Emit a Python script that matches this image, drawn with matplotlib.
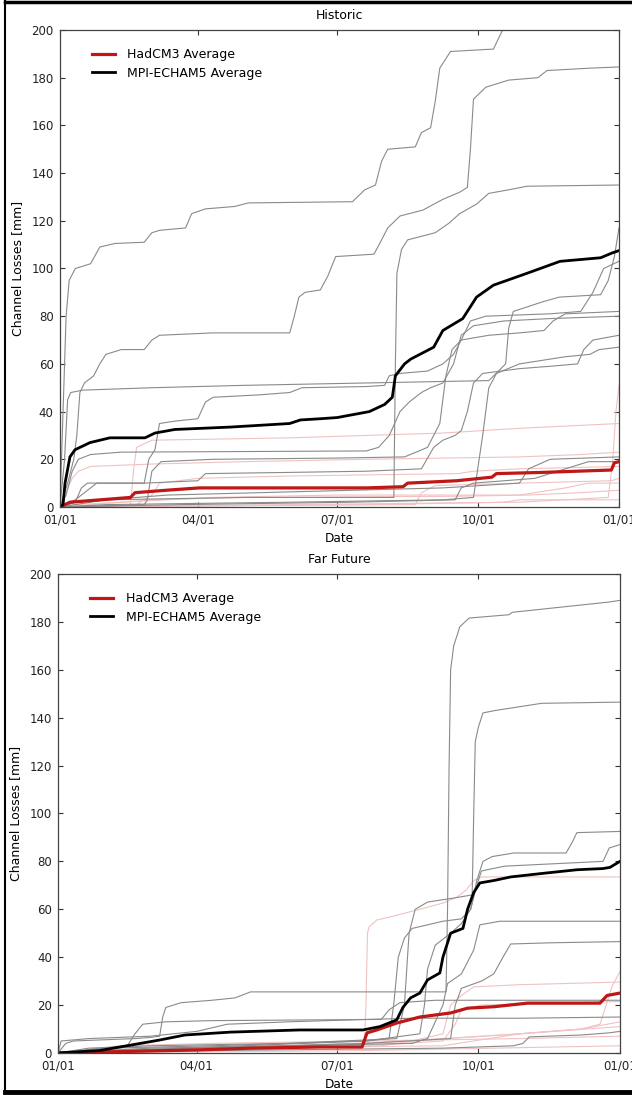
import numpy as np
import matplotlib
matplotlib.use("Agg")
import matplotlib.pyplot as plt
from matplotlib.lines import Line2D

plt.rcParams['font.family'] = ['DejaVu Sans']
plt.rcParams['font.size'] = 8.5
plt.rcParams['xtick.direction'] = 'in'
plt.rcParams['ytick.direction'] = 'in'

#---------------------------------------------------------------------------
# data: (day of year, cumulative channel losses [mm])
date_ticks = [0, 90, 181, 273, 365]
date_labels = ["01/01", "04/01", "07/01", "10/01", "01/01"]
loss_ticks = [0, 20, 40, 60, 80, 100, 120, 140, 160, 180, 200]

# --- Historic ---
hist_mpi = [
    [(0,0),(2,40),(4,80),(6,95),(10,100),(20,102),(26,109),(36,110.5),(55,111),(60,115),(65,116),(82,117),(86,123),(95,125),(114,126),(123,127.5),(191,128),(199,133),(206,135),(210,145),(214,150),(232,151),(236,157),(242,159),(245,170),(248,184),(255,191),(283,192),(289,200),(292,210)],
    [(0,0),(5,10),(9,20),(11,30),(13,48),(16,52),(22,55),(26,60),(30,64),(40,66),(55,66),(60,70),(65,72),(100,73),(150,73),(153,80),(156,88),(160,90),(170,91),(175,97),(180,105),(205,106),(210,112),(214,117),(222,122),(237,124.5),(250,129),(261,132),(266,134),(268,150),(270,171),(278,176),(293,179),(312,180),(318,183),(346,184),(365,184.5)],
    [(0,0),(10,2),(30,3),(120,4),(218,4),(219,60),(220,98),(223,108),(227,112),(245,115),(254,119),(261,123),(272,127),(280,131.5),(293,133),(305,134.5),(365,135)],
    [(0,0),(3,20),(5,45),(7,48),(15,49),(60,50),(120,51),(200,52),(280,53),(291,60),(293,75),(296,82),(315,86),(326,88),(353,89),(358,95),(362,105),(365,117)],
    [(0,0),(10,3),(24,10),(55,10),(58,20),(62,24),(65,35),(75,36),(90,37),(95,44),(100,46),(130,47),(150,48),(158,50),(200,50.5),(212,51),(215,55),(222,56),(240,57),(250,60),(257,64),(262,70),(268,78),(278,80),(320,81),(340,82),(348,90),(355,100),(365,103)],
    [(0,0),(4,5),(8,15),(12,20),(20,22),(40,23),(200,23.5),(208,25),(215,30),(222,40),(228,44),(236,48),(242,50),(250,52),(257,60),(262,72),(270,76),(290,78),(320,79),(365,80)],
    [(0,0),(55,1),(57,3),(60,15),(66,19),(100,20),(180,20.5),(225,21),(240,25),(248,35),(252,55),(256,66),(262,70),(280,72),(300,73),(316,74),(322,78),(330,81),(365,82)],
    [(0,0),(10,2),(14,8),(18,10),(55,10),(90,11),(95,14),(150,14.5),(200,15),(236,16),(244,25),(250,28),(258,30),(262,32),(266,40),(270,52),(276,56),(300,58),(320,59),(338,60),(342,66),(348,70),(365,72)],
    [(0,0),(30,1),(150,2),(250,3),(270,4),(276,30),(280,50),(285,56),(300,60),(330,63),(346,64),(352,66),(365,67)],
    [(0,0),(80,1),(190,2),(258,3),(262,8),(270,10),(310,12),(330,16),(345,19),(365,19)],
    [(0,0),(30,3),(70,5),(130,6),(250,8),(300,10),(306,16),(320,20),(365,21)],
]
hist_had = [
    [(0,0),(46,0.5),(48,15),(50,25),(60,28),(150,29),(250,31),(300,33),(365,35)],
    [(0,0),(3,5),(8,12),(12,15),(20,17),(60,18),(120,19),(200,20),(300,21),(340,22),(365,23)],
    [(0,0),(50,1),(60,5),(65,10),(90,12),(150,13),(260,14),(270,15),(300,16),(365,17)],
    [(0,0),(100,0.5),(232,1),(236,6),(245,9),(300,10),(360,11),(365,12)],
    [(0,0),(150,1),(300,2),(358,4),(361,20),(363,40),(365,51)],
    [(0,0),(40,2),(60,3),(120,4),(260,4.5),(305,5),(340,6),(365,7)],
    [(0,0),(200,1),(290,2),(300,3),(365,3)],
    [(0,0),(10,1),(100,4),(180,5),(300,5),(330,8),(345,10),(365,10)],
]
hist_mpi_avg = [(0,0),(2,1),(3.3,10),(6.5,21),(9.8,24),(19.6,27),(32.6,29),(55.5,29),(62,31),(75,32.5),(111,33.5),(150,35),(157,36.5),(170,37),(181,37.5),(202,40),(212,43),(217,46),(219,55),(225,60),(229,62),(244,67),(250,74),(263,79),(272,88),(283,93),(305,98),(326.5,103),(353,104.5),(360.5,106.5),(365,107.5)]
hist_had_avg = [(0,0),(6.5,2),(46,4),(49,6),(69,7),(91,8),(200,8),(224,8.5),(227,10),(259,11),(282,12.5),(285,14),(315,14.5),(360,15.5),(362,18.5),(365,19)]

# --- Far Future ---
fut_mpi = [
    [(0,0),(5,4),(10,5),(50,6),(60,6.5),(66,7),(68,15),(70,19),(80,21),(100,22),(115,23),(125,25.5),(252,25.5),(253,60),(254,120),(255,160),(257,170),(261,178),(267,181.6),(293,183),(295,184),(358,188.3),(365,189)],
    [(0,0),(20,2),(60,3),(150,4),(220,6),(225,20),(228,50),(232,60),(240,63),(260,65),(269,66),(270,100),(271,130),(273,136),(276,142),(284,143),(314,146),(365,146.5)],
    [(0,0),(30,2),(100,3),(200,5),(215,6),(218,20),(221,40),(225,48),(230,52),(250,55),(262,56),(268,60),(272,72),(276,80),(282,82),(296,83.5),(330,83.5),(334,88),(337,92),(365,92.5)],
    [(0,0),(40,1),(120,3),(200,5),(235,8),(238,20),(240,35),(245,45),(255,50),(262,54),(268,60),(272,70),(275,76),(290,78),(354,80),(358,85.6),(365,87)],
    [(0,0),(60,2),(150,3),(230,4),(240,6),(250,20),(253,29),(262,33),(270,43),(274,53.5),(287,55),(365,55)],
    [(0,0),(90,2),(200,4),(255,6),(258,20),(262,27),(275,30),(283,33),(289,40),(294,45.5),(320,46),(365,46.5)],
    [(0,0),(100,1),(250,2),(296,3),(302,4),(306,6.7),(340,7.5),(358,8.4),(365,9)],
    [(0,0),(2,5),(20,6),(40,6.5),(60,7),(90,9),(110,12),(150,13),(200,14),(230,14.5),(300,14.5),(365,15)],
    [(0,0),(30,2),(45,3),(50,8),(55,12),(70,13),(100,13.5),(210,14),(215,18),(222,21),(245,22),(300,22),(365,22)],
]
fut_had = [
    [(0,0),(50,1),(150,3),(199,4),(200,20),(201,50),(202,52.6),(207,55.5),(217,57),(235,60),(250,62.6),(259,65),(265,68),(270,72),(275,73.5),(365,73.5)],
    [(0,0),(100,2),(200,4),(300,8),(340,10),(352,12),(356,20),(360,28),(365,34)],
    [(0,0),(60,2),(150,3),(230,5),(250,8),(255,20),(262,24),(270,27.6),(300,28.5),(365,29.6)],
    [(0,0),(100,2),(200,3),(250,5),(258,12),(262,18),(275,20),(365,21.5)],
    [(0,0),(100,1),(210,3),(230,5),(300,8),(340,10),(365,13)],
    [(0,0),(120,2),(250,3),(280,6),(300,8),(365,11)],
    [(0,0),(40,3),(100,4),(200,5),(300,6),(365,7)],
    [(0,0),(200,1),(365,3)],
]
fut_mpi_avg = [(0,0),(27,1),(66,5.4),(82.5,7.5),(112,8.7),(157,9.6),(198,9.6),(209,11),(220,13.8),(224,19),(229,23),(235,25),(240,30.5),(248,33.4),(250,40),(255,50),(263,52),(266,60),(270,67),(274,71),(283,72),(294,73.5),(315,75),(337,76.5),(354,77),(358.5,77.5),(365,80)]
fut_had_avg = [(0,0),(92,1.3),(125,2),(170,2.5),(197.5,2.5),(200.7,8.4),(207,9.6),(220,12.5),(235,15),(255,16.7),(266,18.7),(283,19.3),(305,20.8),(352,20.8),(356.6,24),(365,25)]
#---------------------------------------------------------------------------

GRAY = "#8a8a8a"
PINK = "#f0c2c2"
RED = "#bf1616"


def draw_panel(ax, mpi, had, mpi_avg, had_avg, title):
    for s in had:
        d, v = zip(*s)
        ax.plot(d, v, c=PINK, lw=0.8)
    for s in mpi:
        d, v = zip(*s)
        ax.plot(d, v, c=GRAY, lw=0.8)
    d, v = zip(*had_avg)
    ax.plot(d, v, c=RED, lw=2.3, label="HadCM3 Average")
    d, v = zip(*mpi_avg)
    ax.plot(d, v, c="black", lw=2.0, label="MPI-ECHAM5 Average")

    ax.set_xlim(0, 365)
    ax.set_ylim(0, 200)
    ax.set_xticks(date_ticks)
    ax.set_xticklabels(date_labels)
    ax.set_yticks(loss_ticks)
    ax.tick_params(top=True, right=True, length=3.5, width=0.8, colors="#333333",
                   labelcolor="#222222")
    ax.tick_params(axis="x", pad=4.5)
    ax.tick_params(axis="y", pad=4.5)
    for sp in ax.spines.values():
        sp.set_color("#444444")
        sp.set_linewidth(0.9)
    ax.set_title(title, fontsize=9, pad=8)
    ax.set_xlabel("Date", fontsize=8.7, labelpad=4)
    ax.set_ylabel("Channel Losses [mm]", fontsize=9, labelpad=5.5)
    ax.legend(loc="upper left", bbox_to_anchor=(0.057, 0.962), frameon=False,
              fontsize=9, handlelength=1.85, handletextpad=1.0, labelspacing=0.45,
              borderaxespad=0, borderpad=0)


fig = plt.figure(figsize=(6.32, 10.95), dpi=100)
ax1 = fig.add_axes((0.0949, 0.537, 0.8845, 0.4356))
ax2 = fig.add_axes((0.0918, 0.0384, 0.8892, 0.4374))
draw_panel(ax1, hist_mpi, hist_had, hist_mpi_avg, hist_had_avg, "Historic")
draw_panel(ax2, fut_mpi, fut_had, fut_mpi_avg, fut_had_avg, "Far Future")

# black screenshot frame
fig.add_artist(Line2D([5/632, 1], [1-1.5/1095, 1-1.5/1095], color="black", lw=2.5))
fig.add_artist(Line2D([5/632, 5/632], [3/1095, 1], color="black", lw=1.5))
fig.add_artist(Line2D([5/632, 1], [3/1095, 3/1095], color="black", lw=3.5))

fig.savefig("out.png", dpi=100)
